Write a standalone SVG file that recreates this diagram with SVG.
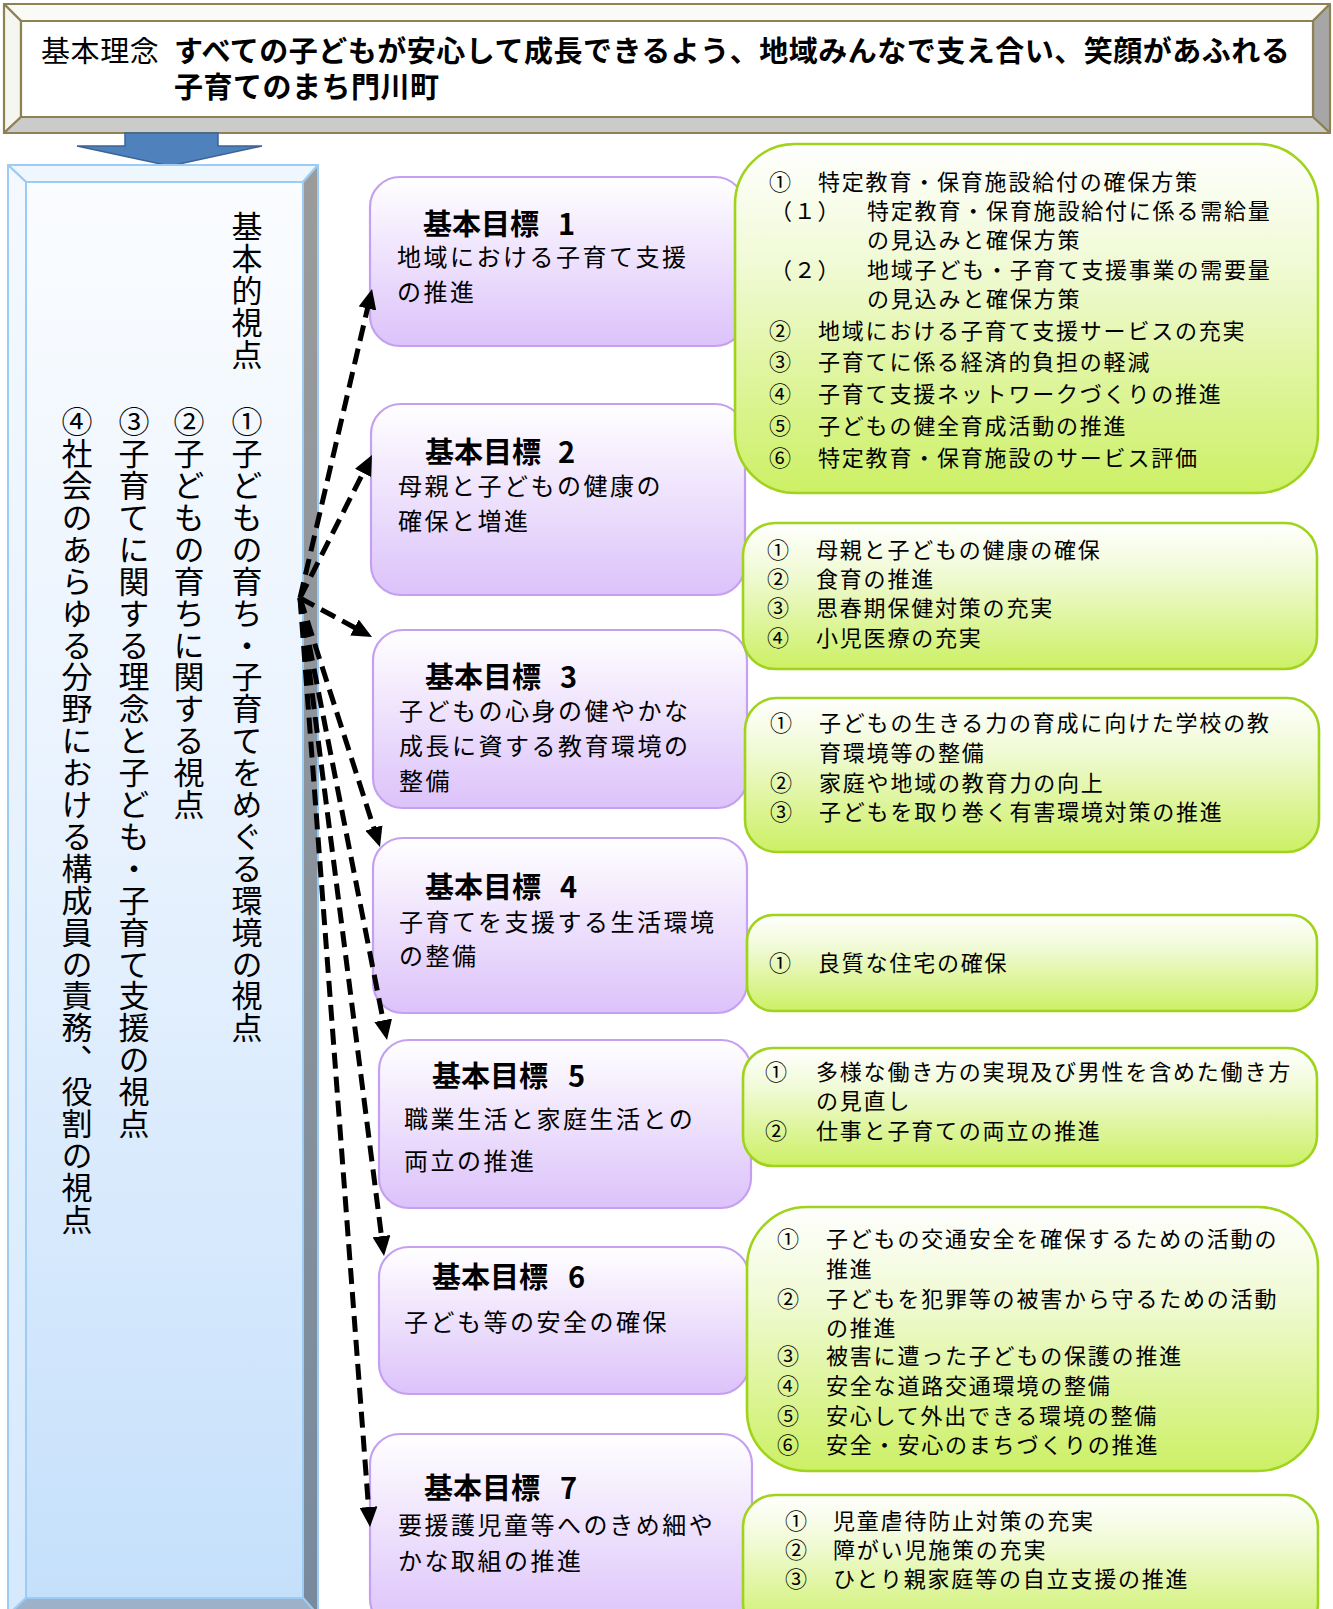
<svg xmlns="http://www.w3.org/2000/svg" width="1333" height="1609" viewBox="0 0 1333 1609">
<style>
text{font-family:"Noto Sans CJK JP","Noto Sans CJK SC",sans-serif;fill:#000}
.bn{font-size:29px;letter-spacing:0.6px}
.bnb{font-size:29px;font-weight:700;letter-spacing:0.5px}
.vt{font-size:31px;letter-spacing:0.9px;writing-mode:vertical-rl}
.tt{font-size:29px;font-weight:700}
.bd{font-size:24px;letter-spacing:2.5px}
.gt{font-size:22px;letter-spacing:1.8px}
.pbox{fill:url(#gPurple);stroke:#c6a0f0;stroke-width:2.2}
.gbox{fill:url(#gGreen);stroke:#9fd31c;stroke-width:2.6}
.olv{stroke:#8c8253;stroke-width:2.2;stroke-linejoin:round}
.lbl{stroke:#9ccbf3;stroke-width:2;stroke-linejoin:round}
.con{fill:none;stroke:#000;stroke-width:5;stroke-dasharray:16 8;marker-end:url(#ah)}
</style>
<defs>
<linearGradient id="gPurple" x1="0" y1="0" x2="0" y2="1">
<stop offset="0" stop-color="#ffffff"/><stop offset="1" stop-color="#dcc2fa"/>
</linearGradient>
<linearGradient id="gGreen" x1="0" y1="0" x2="0" y2="1">
<stop offset="0" stop-color="#ffffff"/><stop offset="0.35" stop-color="#f0fad4"/><stop offset="1" stop-color="#ccf064"/>
</linearGradient>
<linearGradient id="gFace" x1="0" y1="0" x2="0" y2="1">
<stop offset="0" stop-color="#fafcff"/><stop offset="0.5" stop-color="#e6f1fe"/><stop offset="1" stop-color="#c5e0fb"/>
</linearGradient>
<linearGradient id="gLeftB" x1="0" y1="0" x2="0" y2="1">
<stop offset="0" stop-color="#f4f9ff"/><stop offset="1" stop-color="#d6e9fc"/>
</linearGradient>
<linearGradient id="gRightB" x1="0" y1="0" x2="0" y2="1">
<stop offset="0" stop-color="#9b9b9b"/><stop offset="1" stop-color="#788a9c"/>
</linearGradient>
<marker id="ah" viewBox="0 0 20 18" markerUnits="userSpaceOnUse" markerWidth="20" markerHeight="18" refX="8" refY="9" orient="auto">
<path d="M0,0 L20,9 L0,18 z" fill="#000"/>
</marker>
</defs>
<rect width="1333" height="1609" fill="#fff"/>

<g id="banner">
<polygon class="olv" points="4,4 1330,4 1313,21 21,21" fill="#fafaf6"/>
<polygon class="olv" points="4,4 21,21 21,117 4,133" fill="#f6f6f0"/>
<polygon class="olv" points="1330,4 1330,133 1313,117 1313,21" fill="#a6a6a6"/>
<polygon class="olv" points="4,133 1330,133 1313,117 21,117" fill="#cbcbcb"/>
<rect class="olv" x="21" y="21" width="1292" height="96" fill="#fff"/>
<text class="bn" x="41" y="62">基本理念</text>
<text class="bnb" x="174" y="62">すべての子どもが安心して成長できるよう、地域みんなで支え合い、笑顔があふれる</text>
<text class="bnb" x="174" y="98">子育てのまち門川町</text>
</g>

<g id="down-arrow">
<polygon points="125,133 218,133 218,146 262,146 170,166 77,146 125,146" fill="#4f81bd" stroke="#3b6494" stroke-width="1.5"/>
</g>

<g id="basic-viewpoints">
<polygon class="lbl" points="8,165 318,165 303,182 26,182" fill="#eef6fe"/>
<polygon class="lbl" points="8,165 26,182 26,1598 8,1615" fill="url(#gLeftB)"/>
<polygon class="lbl" points="318,165 318,1615 303,1598 303,182" fill="url(#gRightB)"/>
<polygon class="lbl" points="8,1615 318,1615 303,1598 26,1598" fill="#9db2c8"/>
<rect class="lbl" x="26" y="182" width="277" height="1416" fill="url(#gFace)"/>
<text class="vt" x="247" y="211">基本的視点</text>
<text class="vt" x="247" y="406">①子どもの育ち・子育てをめぐる環境の視点</text>
<text class="vt" x="189" y="406">②子どもの育ちに関する視点</text>
<text class="vt" x="134" y="406">③子育てに関する理念と子ども・子育て支援の視点</text>
<text class="vt" x="77" y="406">④社会のあらゆる分野における構成員の責務、役割の視点</text>
</g>

<g id="goal1">
<rect class="pbox" x="370" y="177" width="375" height="169" rx="30"/>
<text class="tt" x="423" y="235">基本目標<tspan x="558">1</tspan></text>
<text class="bd" x="397" y="266">地域における子育て支援</text>
<text class="bd" x="397" y="301">の推進</text>
</g>
<g id="goal2">
<rect class="pbox" x="371" y="404" width="374" height="191" rx="30"/>
<text class="tt" x="425" y="463">基本目標<tspan x="558">2</tspan></text>
<text class="bd" x="398" y="495">母親と子どもの健康の</text>
<text class="bd" x="398" y="530">確保と増進</text>
</g>
<g id="goal3">
<rect class="pbox" x="373" y="630" width="374" height="178" rx="30"/>
<text class="tt" x="425" y="688">基本目標<tspan x="560">3</tspan></text>
<text class="bd" x="399" y="720">子どもの心身の健やかな</text>
<text class="bd" x="399" y="755">成長に資する教育環境の</text>
<text class="bd" x="399" y="790">整備</text>
</g>
<g id="goal4">
<rect class="pbox" x="373" y="838" width="374" height="175" rx="30"/>
<text class="tt" x="425" y="898">基本目標<tspan x="560">4</tspan></text>
<text class="bd" x="399" y="931">子育てを支援する生活環境</text>
<text class="bd" x="399" y="965">の整備</text>
</g>
<g id="goal5">
<rect class="pbox" x="379" y="1040" width="372" height="168" rx="30"/>
<text class="tt" x="432" y="1087">基本目標<tspan x="568">5</tspan></text>
<text class="bd" x="404" y="1128">職業生活と家庭生活との</text>
<text class="bd" x="404" y="1170">両立の推進</text>
</g>
<g id="goal6">
<rect class="pbox" x="379" y="1247" width="370" height="147" rx="30"/>
<text class="tt" x="432" y="1288">基本目標<tspan x="568">6</tspan></text>
<text class="bd" x="404" y="1331">子ども等の安全の確保</text>
</g>
<g id="goal7">
<rect class="pbox" x="370" y="1434" width="382" height="195" rx="30"/>
<text class="tt" x="424" y="1499">基本目標<tspan x="560">7</tspan></text>
<text class="bd" x="398" y="1534">要援護児童等へのきめ細や</text>
<text class="bd" x="398" y="1570">かな取組の推進</text>
</g>

<g id="measures1">
<rect class="gbox" x="735" y="144" width="583" height="349" rx="60"/>
<text class="gt" x="769" y="189.5">①<tspan x="818">特定教育・保育施設給付の確保方策</tspan></text>
<text class="gt" x="770" y="219">（１）<tspan x="867">特定教育・保育施設給付に係る需給量</tspan></text>
<text class="gt" x="867" y="248">の見込みと確保方策</text>
<text class="gt" x="770" y="277.5">（２）<tspan x="867">地域子ども・子育て支援事業の需要量</tspan></text>
<text class="gt" x="867" y="307">の見込みと確保方策</text>
<text class="gt" x="769" y="338.5">②<tspan x="818">地域における子育て支援サービスの充実</tspan></text>
<text class="gt" x="769" y="370">③<tspan x="818">子育てに係る経済的負担の軽減</tspan></text>
<text class="gt" x="769" y="401.5">④<tspan x="818">子育て支援ネットワークづくりの推進</tspan></text>
<text class="gt" x="769" y="434">⑤<tspan x="818">子どもの健全育成活動の推進</tspan></text>
<text class="gt" x="769" y="466">⑥<tspan x="818">特定教育・保育施設のサービス評価</tspan></text>
</g>
<g id="measures2">
<rect class="gbox" x="743" y="523" width="574" height="146" rx="32"/>
<text class="gt" x="767" y="557.5">①<tspan x="816">母親と子どもの健康の確保</tspan></text>
<text class="gt" x="767" y="586.5">②<tspan x="816">食育の推進</tspan></text>
<text class="gt" x="767" y="616">③<tspan x="816">思春期保健対策の充実</tspan></text>
<text class="gt" x="767" y="645.5">④<tspan x="816">小児医療の充実</tspan></text>
</g>
<g id="measures3">
<rect class="gbox" x="745" y="698" width="574" height="154" rx="32"/>
<text class="gt" x="770" y="731">①<tspan x="819">子どもの生きる力の育成に向けた学校の教</tspan></text>
<text class="gt" x="819" y="760.5">育環境等の整備</text>
<text class="gt" x="770" y="790.5">②<tspan x="819">家庭や地域の教育力の向上</tspan></text>
<text class="gt" x="770" y="820">③<tspan x="819">子どもを取り巻く有害環境対策の推進</tspan></text>
</g>
<g id="measures4">
<rect class="gbox" x="747" y="915" width="570" height="96" rx="26"/>
<text class="gt" x="769" y="971">①<tspan x="818">良質な住宅の確保</tspan></text>
</g>
<g id="measures5">
<rect class="gbox" x="743" y="1048" width="574" height="118" rx="30"/>
<text class="gt" x="765" y="1080">①<tspan x="816">多様な働き方の実現及び男性を含めた働き方</tspan></text>
<text class="gt" x="816" y="1108.5">の見直し</text>
<text class="gt" x="765" y="1138.5">②<tspan x="816">仕事と子育ての両立の推進</tspan></text>
</g>
<g id="measures6">
<rect class="gbox" x="747" y="1207" width="571" height="264" rx="60"/>
<text class="gt" x="777" y="1247">①<tspan x="826">子どもの交通安全を確保するための活動の</tspan></text>
<text class="gt" x="826" y="1277">推進</text>
<text class="gt" x="777" y="1306.5">②<tspan x="826">子どもを犯罪等の被害から守るための活動</tspan></text>
<text class="gt" x="826" y="1335.5">の推進</text>
<text class="gt" x="777" y="1364">③<tspan x="826">被害に遭った子どもの保護の推進</tspan></text>
<text class="gt" x="777" y="1394">④<tspan x="826">安全な道路交通環境の整備</tspan></text>
<text class="gt" x="777" y="1423.5">⑤<tspan x="826">安心して外出できる環境の整備</tspan></text>
<text class="gt" x="777" y="1452.5">⑥<tspan x="826">安全・安心のまちづくりの推進</tspan></text>
</g>
<g id="measures7">
<rect class="gbox" x="743" y="1495" width="575" height="140" rx="32"/>
<text class="gt" x="785" y="1528.5">①<tspan x="833">児童虐待防止対策の充実</tspan></text>
<text class="gt" x="785" y="1558">②<tspan x="833">障がい児施策の充実</tspan></text>
<text class="gt" x="785" y="1587">③<tspan x="833">ひとり親家庭等の自立支援の推進</tspan></text>
</g>

<g id="connectors">
<line class="con" x1="300" y1="598" x2="369.3" y2="300.7"/>
<line class="con" x1="300" y1="598" x2="366.6" y2="465.7"/>
<line class="con" x1="300" y1="598" x2="361.5" y2="631.3"/>
<line class="con" x1="300" y1="598" x2="376.3" y2="835.6"/>
<line class="con" x1="300" y1="598" x2="384.7" y2="1028.2"/>
<line class="con" x1="300" y1="598" x2="382.5" y2="1244.1"/>
<line class="con" x1="300" y1="598" x2="369.1" y2="1515"/>
</g>
</svg>
